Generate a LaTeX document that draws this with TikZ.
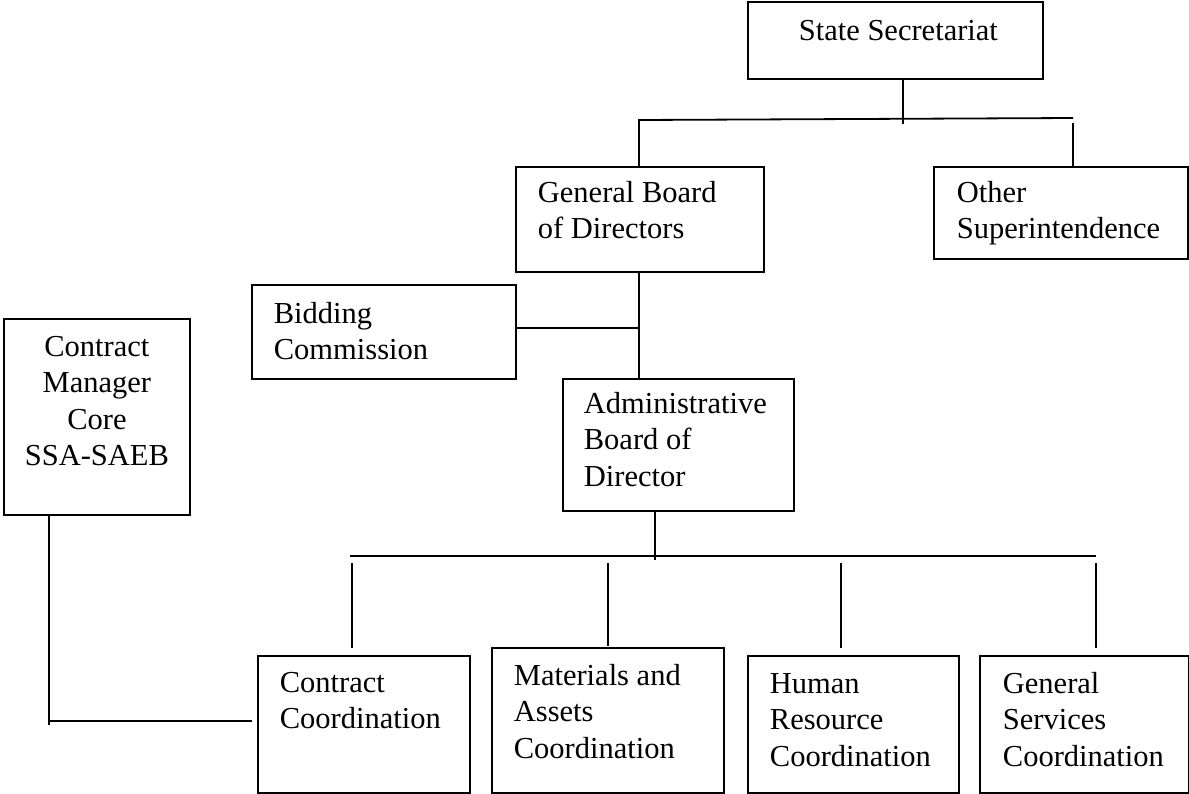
\documentclass[tikz,border=0pt]{standalone}
\usepackage{fontspec}
\setmainfont{Liberation Serif}
\newcommand\orgfont{\fontsize{30.5}{36.5}\selectfont}
\newcommand\orglines[2][300pt]{\parbox[t]{#1}{\raggedright #2}}
\begin{document}
\begin{tikzpicture}[x=1pt,y=-1pt,line width=1.8pt]
        \tikzstyle{unit}=[draw, anchor=north west, inner sep=0pt]
        \tikzstyle{txt}=[anchor=base west, inner sep=0pt, font=\orgfont]
        \useasboundingbox (0,0) rectangle (1189,793);
        % boxes
        \node[unit, minimum width=295pt, minimum height=77pt]  (sec) at (747,  1) {};
        \node[unit, minimum width=248pt, minimum height=105pt] (gbd) at (515,166) {};
        \node[unit, minimum width=254pt, minimum height=92pt]  (oth) at (933,166) {};
        \node[unit, minimum width=264pt, minimum height=94pt]  (bid) at (251,284) {};
        \node[unit, minimum width=231pt, minimum height=132pt] (adm) at (562,378) {};
        \node[unit, minimum width=186pt, minimum height=196pt] (cmc) at (3,318) {};
        \node[unit, minimum width=212pt, minimum height=137pt] (con) at (257,655) {};
        \node[unit, minimum width=232pt, minimum height=145pt] (mat) at (491,647) {};
        \node[unit, minimum width=211pt, minimum height=137pt] (hum) at (747,655) {};
        \node[unit, minimum width=209pt, minimum height=137pt] (gsv) at (979,655) {};
        % labels
        \node[txt] (sec-txt) at (798, 40) {State Secretariat};
        \node[txt] (gbd-txt) at (537,202) {\orglines{General Board\\of Directors}};
        \node[txt] (oth-txt) at (956,202) {\orglines{Other\\Superintendence}};
        \node[txt] (bid-txt) at (273,323) {\orglines{Bidding\\Commission}};
        \node[txt] (adm-txt) at (583,413) {\orglines{Administrative\\Board of\\Director}};
        \node[txt] (cmc-txt) at (3,356)   {\parbox[t]{186pt}{\centering Contract\\Manager\\Core\\SSA-SAEB}};
        \node[txt] (con-txt) at (279,692) {\orglines{Contract\\Coordination}};
        \node[txt] (mat-txt) at (513,685) {\orglines{Materials and\\Assets\\Coordination}};
        \node[txt] (hum-txt) at (769,693) {\orglines{Human\\Resource\\Coordination}};
        \node[txt] (gsv-txt) at (1002,693) {\orglines{General\\Services\\Coordination}};
        % top level
        \coordinate (j-sec) at (903,124);
        \coordinate (bus-l) at (639,120);
        \coordinate (bus-r) at (1073,118);
        \draw (sec.south -| j-sec) -- (j-sec);
        \draw (gbd.north -| bus-l) -- (bus-l) -- (bus-r);
        \draw ([yshift=-5pt]bus-r) -- (oth.north -| bus-r);
        % boards
        \coordinate (spine) at (639,328);
        \draw (gbd.south -| spine) -- (adm.north -| spine);
        \draw (bid.east |- spine) -- (spine);
        % coordinations
        \coordinate (hub) at (655,560);
        \coordinate (bus-bl) at (350,556);
        \coordinate (bus-br) at (1096,556);
        \draw (adm.south -| hub) -- (hub);
        \draw (bus-bl) -- (bus-br);
        \foreach \unit/\dx/\gap in {con/352/7pt, mat/608/1pt, hum/841/7pt, gsv/1096/7pt}
          {\coordinate (drop-\unit) at (\dx,556);
           \draw[shorten <=7pt, shorten >=\gap] (drop-\unit) -- (\unit.north -| drop-\unit);}
        % contract manager core
        \coordinate (elbow) at (49,721);
        \draw (cmc.south -| elbow) -- ([yshift=-4pt]elbow);
        \draw[shorten >=5pt] (elbow) -- (con.west |- elbow);
    \end{tikzpicture}
\end{document}
